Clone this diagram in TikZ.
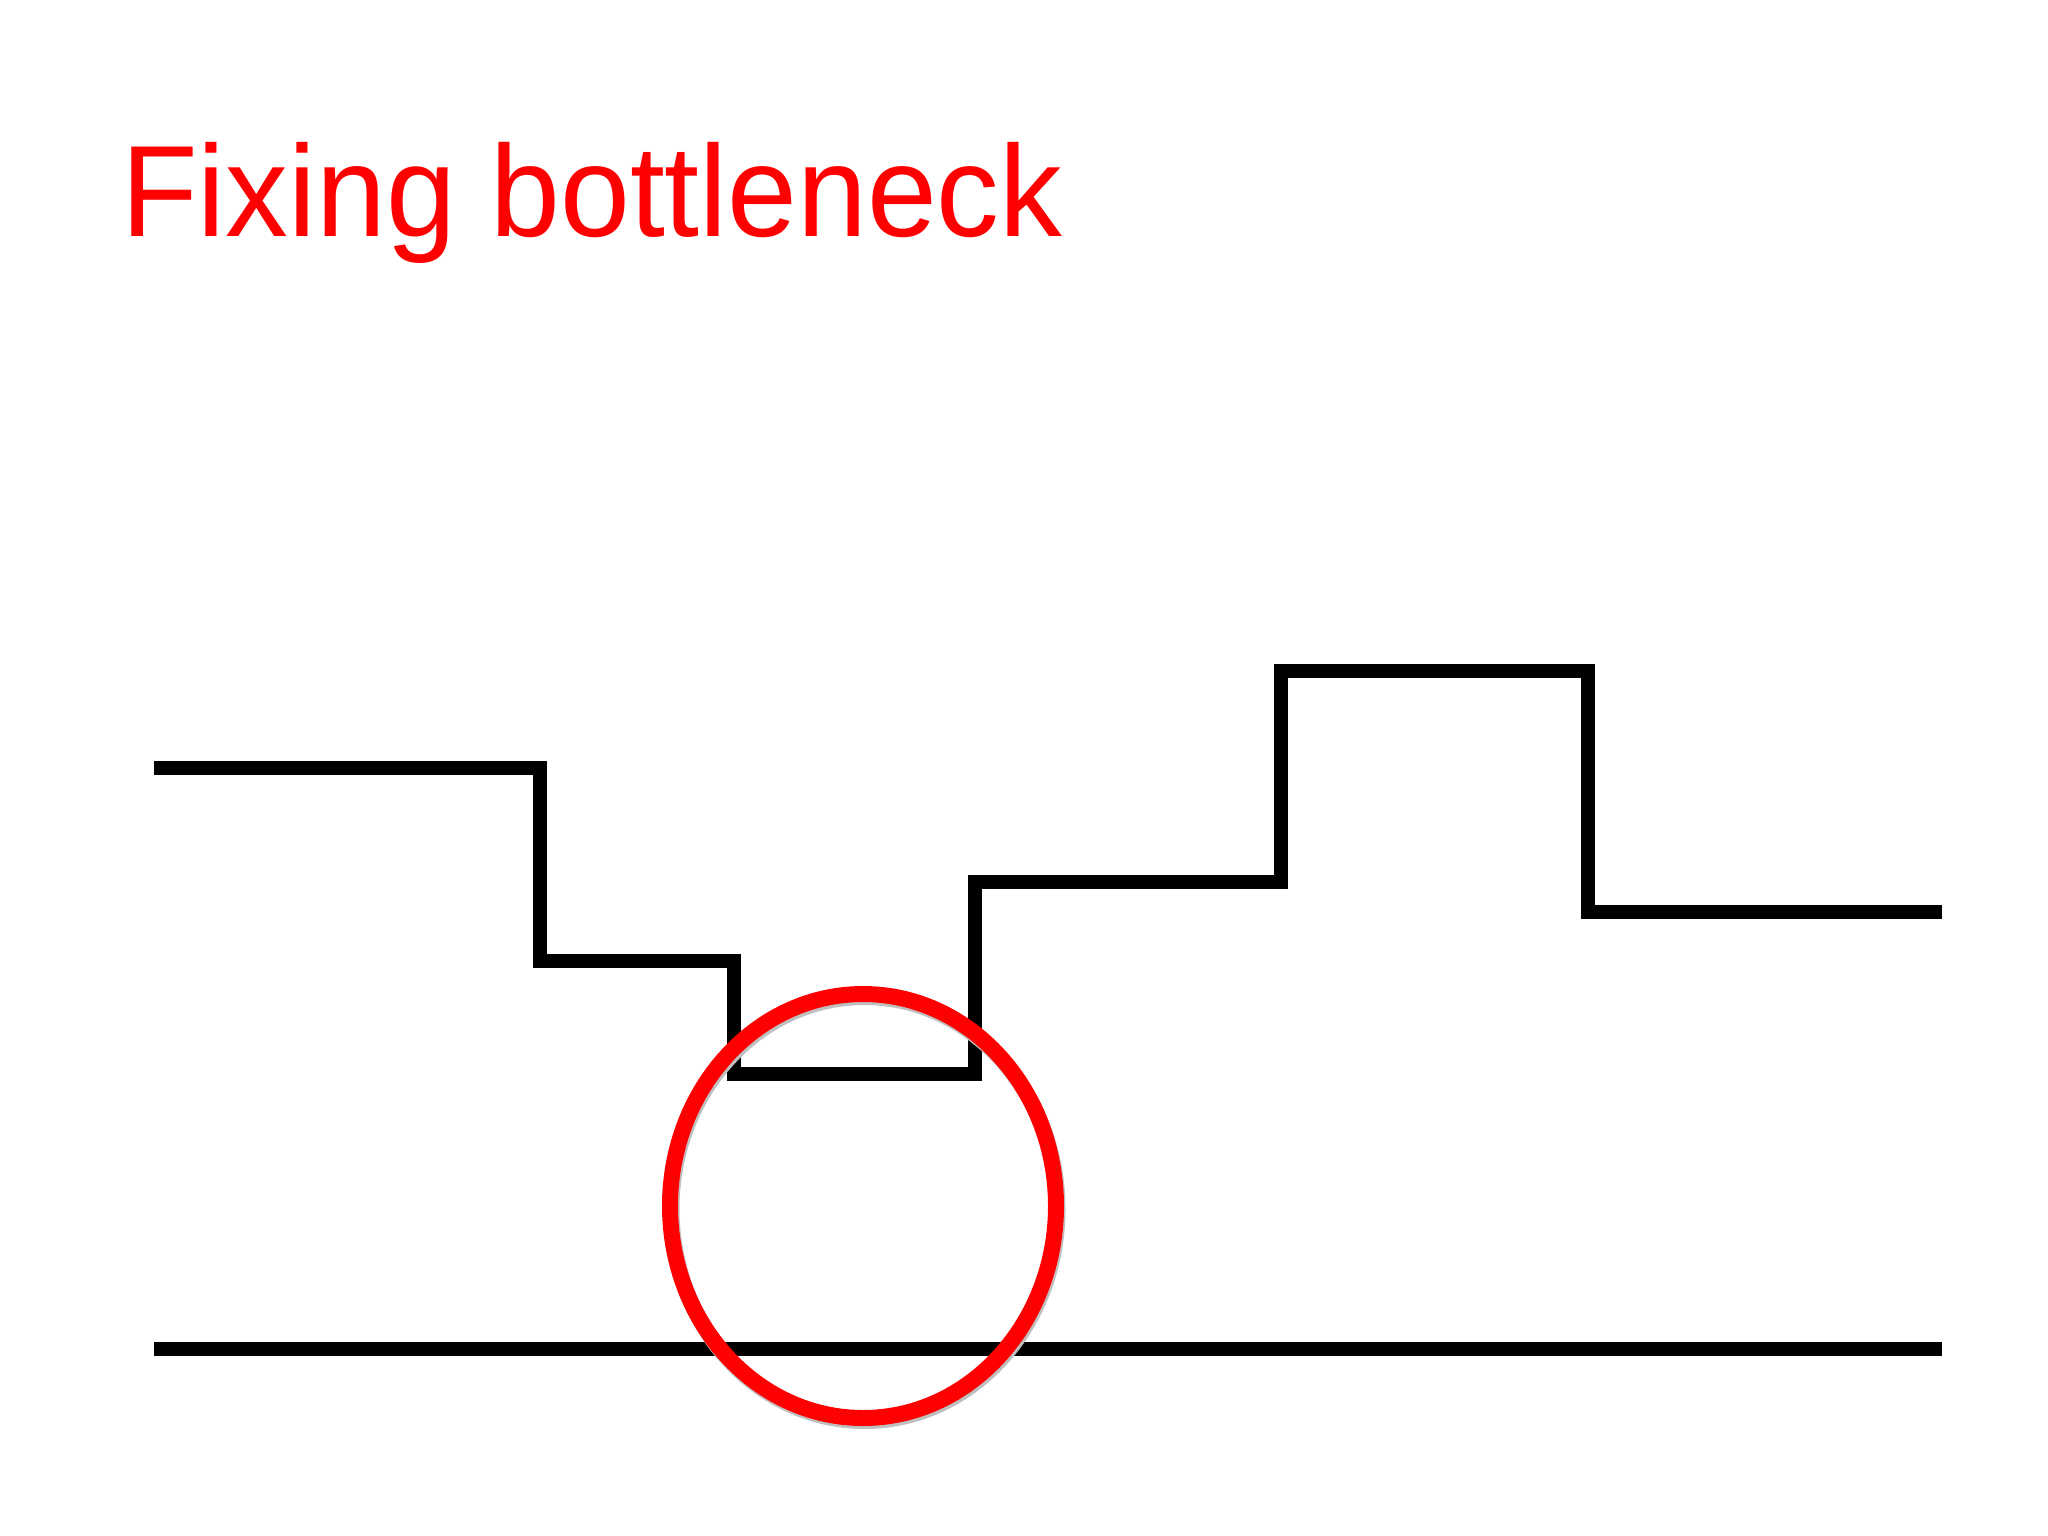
\documentclass[tikz,border=0pt]{standalone}
\usepackage{fontspec}
\setmainfont{Liberation Sans}
\definecolor{slidered}{RGB}{255,0,0}
\tikzset{
  stepline/.style={draw=black, line width=14pt, line join=miter, line cap=butt},
  shadowline/.style={draw=black!25, line width=14pt, line join=miter, line cap=butt},
  marker/.style={draw=slidered, line width=16pt},
  titletext/.style={text=slidered, inner sep=0pt, anchor=base west, xscale=0.965, font=\fontsize{130pt}{156pt}\selectfont}
}
\begin{document}
\begin{tikzpicture}[x=1pt,y=-1pt]
\useasboundingbox[fill=white] (0,0) rectangle (2048,1536);
% title
\node[titletext] (title) at (121,236) {Fixing bottleneck};
% step profile coordinates
\coordinate (p0) at (154,768);
\coordinate (p1) at (540,768);
\coordinate (p2) at (540,961);
\coordinate (p3) at (734,961);
\coordinate (p4) at (734,1074);
\coordinate (p5) at (975,1074);
\coordinate (p6) at (975,882);
\coordinate (p7) at (1281,882);
\coordinate (p8) at (1281,671);
\coordinate (p9) at (1588,671);
\coordinate (p10) at (1588,912);
\coordinate (p11) at (1942,912);
% baseline
\coordinate (b0) at (154,1349);
\coordinate (b1) at (1942,1349);
% shadows
\begin{scope}[shift={(1.5,3.5)}]
\draw[shadowline] (p0) -- (p1) -- (p2) -- (p3) -- (p4) -- (p5) -- (p6) -- (p7) -- (p8) -- (p9) -- (p10) -- (p11);
\draw[shadowline] (b0) -- (b1);
\end{scope}
% lines
\draw[stepline] (p0) -- (p1) -- (p2) -- (p3) -- (p4) -- (p5) -- (p6) -- (p7) -- (p8) -- (p9) -- (p10) -- (p11);
\draw[stepline] (b0) -- (b1);
% red ellipse
\draw[black!25, line width=16pt] (864.5,1209) ellipse [x radius=193pt, y radius=212pt];
\draw[marker] (863,1206) ellipse [x radius=193pt, y radius=212pt];
\end{tikzpicture}
\end{document}
